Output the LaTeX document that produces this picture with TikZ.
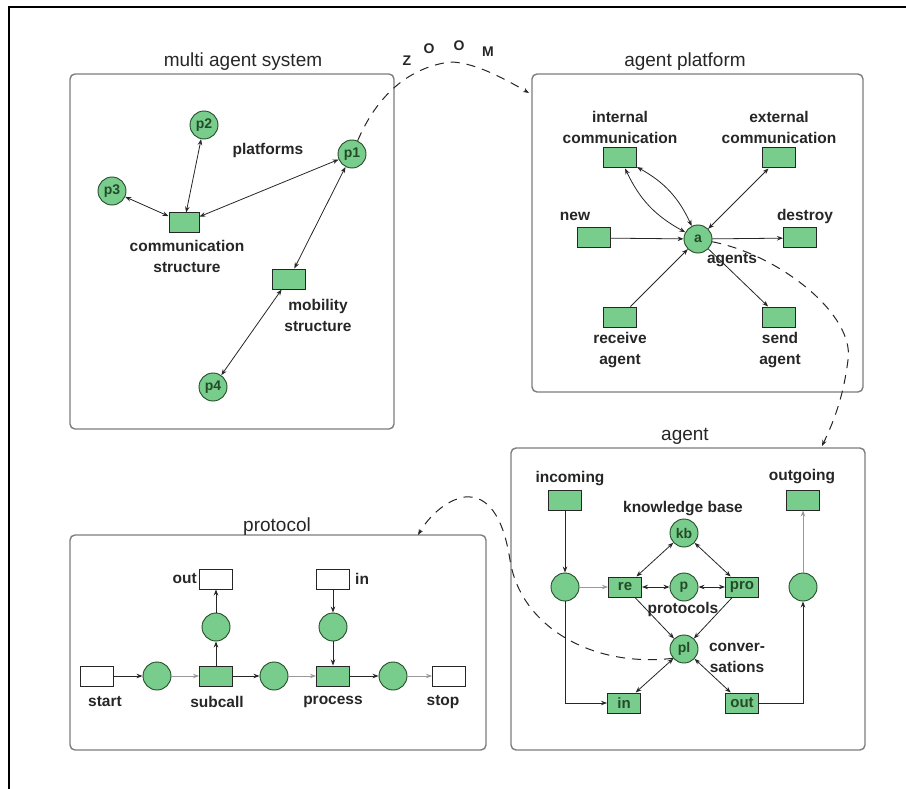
\documentclass[tikz,border=0pt]{standalone}
\usepackage{fontspec}
\setmainfont{Liberation Sans}
\usetikzlibrary{arrows.meta}
\definecolor{petri}{RGB}{120,205,140}
\definecolor{rim}{RGB}{35,75,40}
\definecolor{panel}{RGB}{125,125,125}
\begin{document}
\begin{tikzpicture}[x=1pt,y=-1pt,
  place/.style={circle,draw=rim,fill=petri,line width=0.9pt,minimum size=28pt,inner sep=0pt,
    font=\bfseries\fontsize{14}{14}\selectfont,text=rim},
  trans/.style={rectangle,draw=black!85,fill=petri,line width=1pt,minimum width=33pt,
    minimum height=20pt,inner sep=0pt,font=\bfseries\fontsize{15}{15}\selectfont,text=rim},
  ptrans/.style={trans,fill=white},
  lab/.style={font=\bfseries\fontsize{15.5}{21}\selectfont,align=center,text=black!85,inner sep=0pt},
  ttl/.style={font=\fontsize{19}{19}\selectfont,text=black!85,inner sep=0pt},
  panelbox/.style={draw=panel,line width=1.4pt,rounded corners=5pt},
  tip/.tip={Stealth[length=6pt,width=4.5pt]},
  flow/.style={-tip,line width=0.8pt,draw=black!85},
  biflow/.style={tip-tip,line width=0.8pt,draw=black!85},
  gflow/.style={flow,draw=gray!80},
  zoomline/.style={dash pattern=on 9pt off 7pt,line width=1pt,draw=black!85,-tip},
  zl/.style={font=\bfseries\fontsize{14}{14}\selectfont,inner sep=0pt,text=black!85}
]
\useasboundingbox (0,0) rectangle (906,789);
% page frame
\draw[line width=2pt] (9,789) -- (9,7) -- (906,7);

% ---------------- multi agent system ----------------
\draw[panelbox] (70,74) rectangle (394,429);
\node[ttl] (mast) at (243,62) {multi agent system};
\node[place] (p2) at (204,125) {p2};
\node[place] (p3) at (112,191) {p3};
\node[place] (p1) at (352,154) {p1};
\node[place] (p4) at (213,387) {p4};
\node[trans,minimum width=30pt] (cs) at (184,223) {};
\node[trans] (ms) at (289,279) {};
\node[lab] (csl) at (187,256) {communication\\structure};
\node[lab] (msl) at (318,315) {mobility\\structure};
\node[lab] (plat) at (268,150) {platforms};
\draw[biflow] (p3) -- (cs);
\draw[biflow] (p2) -- (cs);
\draw[biflow] (p1) -- (cs);
\draw[biflow] (p1) -- (ms);
\draw[biflow] (p4) -- (ms);

% ---------------- agent platform ----------------
\draw[panelbox] (532,74) rectangle (863,392);
\node[ttl] (apt) at (685,62) {agent platform};
\node[place] (a) at (698,239) {a};
\node[trans] (ic) at (620,158) {};
\node[trans] (ec) at (779,158) {};
\node[trans] (new) at (594,238) {};
\node[trans] (des) at (800,238) {};
\node[trans] (recv) at (620,317) {};
\node[trans] (send) at (779,317) {};
\node[lab] (icl) at (620,127.5) {internal\\communication};
\node[lab] (ecl) at (779,127.5) {external\\communication};
\node[lab] (newl) at (575,216) {new};
\node[lab] (desl) at (805,216) {destroy};
\node[lab] (recvl) at (620,350) {receive\\agent};
\node[lab] (sendl) at (780,350) {send\\agent};
\node[lab] (agl) at (732,260) {agents};
\draw[biflow] (ic) to[bend right=18] (a);
\draw[biflow] (ic) to[bend left=18] (a);
\draw[biflow] (ec) -- (a);
\draw[flow] (new) -- (a);
\draw[flow] (a) -- (des);
\draw[flow] (recv) -- (a);
\draw[flow] (a) -- (send);

% ---------------- agent ----------------
\draw[panelbox] (511,448) rectangle (865,750);
\node[ttl] (agt) at (685,436) {agent};
\node[trans] (inc) at (565,500) {};
\node[trans] (outg) at (803,500) {};
\node[place] (kb) at (684,533) {kb};
\node[place] (lp) at (565,587) {};
\node[trans] (re) at (625,587) {re};
\node[place] (pp) at (684,587) {p};
\node[trans] (pro) at (742,587) {pro};
\node[place] (rp) at (803,587) {};
\node[place] (pl) at (684,649) {pl};
\node[trans] (inT) at (624,703) {in};
\node[trans] (outT) at (742,703) {out};
\node[lab] (incl) at (570,479) {incoming};
\node[lab] (outgl) at (802,477) {outgoing};
\node[lab] (kbl) at (683,509) {knowledge base};
\node[lab] (prl) at (683,609) {protocols};
\node[lab] (cvl) at (737,658) {conver-\\sations};
\draw[flow] (inc) -- (lp);
\draw[gflow] (lp) -- (re);
\draw[flow] (lp) |- (inT);
\draw[biflow] (kb) -- (re);
\draw[biflow] (kb) -- (pro);
\draw[biflow] (re) -- (pp);
\draw[biflow] (pp) -- (pro);
\draw[flow] (re) -- (pl);
\draw[flow] (pro) -- (pl);
\draw[biflow] (pl) -- (inT);
\draw[biflow] (pl) -- (outT);
\draw[flow] (outT) -| (rp);
\draw[gflow] (rp) -- (outg);

% ---------------- protocol ----------------
\draw[panelbox] (70,535) rectangle (486,750);
\node[ttl] (prt) at (277,527) {protocol};
\node[ptrans] (start) at (97,676) {};
\node[place] (q1) at (157,676) {};
\node[trans] (sub) at (216,676) {};
\node[place] (qs) at (216,627) {};
\node[ptrans] (outP) at (216,579) {};
\node[place] (q2) at (274,676) {};
\node[trans] (proc) at (333,676) {};
\node[place] (qp) at (333,627) {};
\node[ptrans] (inP) at (333,579) {};
\node[place] (q3) at (393,676) {};
\node[ptrans] (stop) at (449,676) {};
\node[lab,anchor=east] (outPl) at (197,579) {out};
\node[lab,anchor=west] (inPl) at (355,579) {in};
\node[lab] (startl) at (105,702) {start};
\node[lab] (subl) at (217,702) {subcall};
\node[lab] (procl) at (333,702) {process};
\node[lab] (stopl) at (443,702) {stop};
\draw[flow] (start) -- (q1);
\draw[gflow] (q1) -- (sub);
\draw[flow] (sub) -- (q2);
\draw[gflow] (q2) -- (proc);
\draw[flow] (proc) -- (q3);
\draw[gflow] (q3) -- (stop);
\draw[flow] (sub) -- (qs);
\draw[flow] (qs) -- (outP);
\draw[flow] (inP) -- (qp);
\draw[flow] (qp) -- (proc);

% ---------------- zoom links ----------------
\coordinate (zEnd) at (529,93);
\draw[zoomline] (p1) .. controls (375,100) and (405,68) .. (450,62)
  .. controls (472,62) and (500,76) .. (zEnd);
\node[zl] (zz) at (407,61) {Z};
\node[zl] (zo1) at (429,49) {O};
\node[zl] (zo2) at (459,46) {O};
\node[zl] (zm) at (488,52) {M};

\coordinate (aEnd) at (822,446);
\draw[zoomline] (a) .. controls (780,255) and (855,315) .. (848,360)
  .. controls (843,400) and (832,425) .. (aEnd);

\coordinate (pEnd) at (418,535);
\draw[zoomline] (pl.220) .. controls (590,668) and (520,625) .. (510,560)
  .. controls (503,515) and (487,495) .. (465,497)
  .. controls (445,500) and (428,518) .. (pEnd);
\end{tikzpicture}
\end{document}
